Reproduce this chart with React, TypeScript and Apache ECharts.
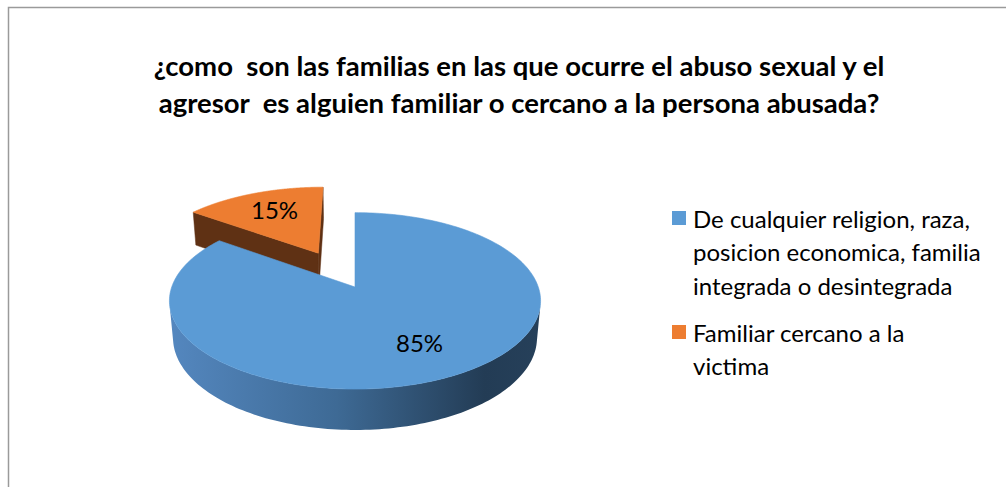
import React, { useEffect, useRef } from "react";
import * as echarts from "echarts";

// ---------- data ----------
const categories = [
  "De cualquier religion, raza, posicion economica, familia integrada o desintegrada",
  "Familiar cercano a la victima",
];
const values = [85, 15];
const legendLines = [
  ["De cualquier religion, raza,", "posicion economica, familia", "integrada o desintegrada"],
  ["Familiar cercano a la", "victima"],
];
const titleLines = [
  "¿como  son las familias en las que ocurre el abuso sexual y el",
  "agresor  es alguien familiar o cercano a la persona abusada?",
];

// ---------- styles / layout ----------
const topColors = ["#5b9bd5", "#ed7d31"];
const sideStops = [
  [
    { offset: 0, color: "#5487bf" },
    { offset: 0.45, color: "#3e6a95" },
    { offset: 0.85, color: "#233c55" },
    { offset: 1, color: "#26405a" },
  ],
  [
    { offset: 0, color: "#5f3114" },
    { offset: 1, color: "#5a2f12" },
  ],
];
const cutColors = ["#2c4d6e", "#5f3114"];
const explodeBy = [0, 0.47];
const FONT = "Lato, 'Open Sans', sans-serif";

const CAM = { f: 1030, D: 5.62, phi: (28 * Math.PI) / 180, cx: 355, cy: 287 };
const THICK = 0.23;
const LABEL_R = 0.68;

function project(X: number, Y: number, Z: number): number[] {
  const c = Math.cos(CAM.phi);
  const s = Math.sin(CAM.phi);
  const yc = Y * c + Z * s;
  const zc = CAM.D + Z * c - Y * s;
  return [CAM.cx + (CAM.f * X) / zc, CAM.cy - (CAM.f * yc) / zc];
}

const total = values.reduce((a, b) => a + b, 0);
const starts: number[] = [];
{
  let acc = 0;
  for (const v of values) {
    starts.push((acc / total) * Math.PI * 2);
    acc += v;
  }
}

function sliceGeom(i: number) {
  const a0 = starts[i];
  const a1 = a0 + (values[i] / total) * Math.PI * 2;
  const mid = (a0 + a1) / 2;
  const e = explodeBy[i];
  const ox = e * Math.sin(mid);
  const oz = e * Math.cos(mid);
  return { a0, a1, mid, ox, oz };
}

function renderSlice(i: number) {
  const { a0, a1, mid, ox, oz } = sliceGeom(i);
  const rim = (t: number, Y: number) => project(ox + Math.sin(t), Y, oz + Math.cos(t));
  const center = (Y: number) => project(ox, Y, oz);
  const c = Math.cos(CAM.phi);
  const s = Math.sin(CAM.phi);
  const cam = [0, CAM.D * s, -CAM.D * c];
  const N = 240;
  const thetas: number[] = [];
  for (let k = 0; k <= N; k++) thetas.push(a0 + ((a1 - a0) * k) / N);

  const children: any[] = [];
  // outer side
  const visible = (t: number) => {
    const px = ox + Math.sin(t);
    const pz = oz + Math.cos(t);
    return (cam[0] - px) * Math.sin(t) + (cam[2] - pz) * Math.cos(t) > 0;
  };
  let run: number[] = [];
  const flush = () => {
    if (run.length > 1) {
      const top = run.map((t) => rim(t, 0));
      const bot = run.slice().reverse().map((t) => rim(t, -THICK));
      children.push({
        type: "polygon",
        shape: { points: top.concat(bot) },
        style: {
          fill: new echarts.graphic.LinearGradient(0, 0, 1, 0, sideStops[i]),
        },
      });
    }
    run = [];
  };
  for (const t of thetas) {
    if (visible(t)) run.push(t);
    else flush();
  }
  flush();

  // cut faces
  const faces = [
    { t: a0, n: [-Math.cos(a0), Math.sin(a0)] },
    { t: a1, n: [Math.cos(a1), -Math.sin(a1)] },
  ];
  for (const fc of faces) {
    const d = (cam[0] - ox) * fc.n[0] + (cam[2] - oz) * fc.n[1];
    if (d > 1e-6) {
      children.push({
        type: "polygon",
        shape: {
          points: [center(0), rim(fc.t, 0), rim(fc.t, -THICK), center(-THICK)],
        },
        style: { fill: cutColors[i], stroke: cutColors[i], lineWidth: 0.5 },
      });
    }
  }

  // top face
  children.push({
    type: "polygon",
    shape: { points: [center(0)].concat(thetas.map((t) => rim(t, 0))) },
    style: { fill: topColors[i], stroke: topColors[i], lineWidth: 0.6 },
  });

  // label
  const lp = project(ox + LABEL_R * Math.sin(mid), 0, oz + LABEL_R * Math.cos(mid));
  children.push({
    type: "text",
    style: {
      text: Math.round((values[i] / total) * 100) + "%",
      x: lp[0] + 2,
      y: lp[1] - 2,
      align: "center",
      verticalAlign: "middle",
      fontSize: 24,
      fontFamily: FONT,
      fill: "#000000",
    },
  });
  return { type: "group", children };
}

export default function App() {
  const ref = useRef<HTMLDivElement>(null);
  useEffect(() => {
    if (!ref.current) return;
    const chart = echarts.init(ref.current, undefined, { renderer: "svg" });
    const rich: any = {
      t: { fontSize: 24, lineHeight: 33.5, fontFamily: FONT, color: "#000", padding: [0, 0, 0, 7] },
      pad: { width: 14, height: 14 },
    };
    topColors.forEach((col, i) => {
      rich["sq" + i] = { width: 14, height: 14, backgroundColor: col };
    });
    const series = categories.map((name, i) => {
      const { mid } = sliceGeom(i);
      return {
        type: "custom",
        name,
        coordinateSystem: "none",
        z: 2 + (Math.cos(mid) < 0 ? 1 : 0),
        itemStyle: { color: topColors[i] },
        data: [values[i]],
        renderItem: () => renderSlice(i),
      };
    });
    chart.setOption({
      animation: false,
      backgroundColor: "#ffffff",
      title: {
        text: titleLines.join("\n"),
        left: 519,
        top: 47,
        padding: 0,
        textAlign: "center",
        textStyle: {
          fontFamily: FONT,
          fontWeight: "bold",
          fontSize: 27.5,
          lineHeight: 37,
          color: "#000000",
        },
      },
      legend: {
        orient: "vertical",
        left: 667,
        top: 206,
        padding: 0,
        itemGap: 23,
        itemWidth: 0,
        itemHeight: 0,
        selectedMode: false,
        data: categories,
        formatter: (name: string) => {
          const idx = categories.indexOf(name);
          return legendLines[idx]
            .map((l, j) => (j === 0 ? `{sq${idx}|}` : "{pad|}") + `{t|${l}}`)
            .join("\n");
        },
        textStyle: { rich, fontFamily: FONT, fontSize: 24, color: "#000" },
      },
      graphic: [
        {
          type: "rect",
          shape: { x: 8.5, y: 7.5, width: 1200, height: 600 },
          style: { fill: "none", stroke: "#9a9a9a", lineWidth: 1.5 },
          z: 0,
          silent: true,
        },
      ],
      series,
    });
    return () => chart.dispose();
  }, []);
  return (
    <div
      ref={ref}
      style={{ position: "fixed", left: 0, top: 0, width: 1006, height: 487 }}
    />
  );
}
